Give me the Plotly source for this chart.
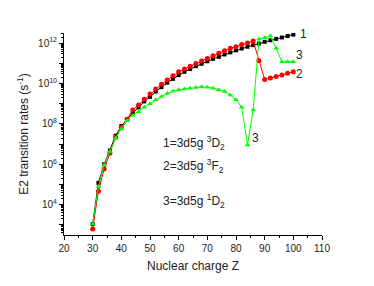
import math
import plotly.graph_objects as go

Z = [30, 32, 34, 36, 38, 40, 42, 44, 46, 48, 50, 52, 54, 56, 58, 60, 62, 64, 66, 68,
     70, 72, 74, 76, 78, 80, 82, 84, 86, 88, 90, 92, 94, 96, 98, 100]

rate_3D2 = [1.1e3, 1.2e5, 1.0e6, 4.8e6, 2.6e7, 7.9e7, 1.7e8, 3.5e8, 6.6e8, 1.3e9,
            2.2e9, 4.0e9, 6.6e9, 1.1e10, 1.7e10, 2.6e10, 3.8e10, 5.2e10, 7.2e10, 9.5e10,
            1.26e11, 1.66e11, 2.1e11, 2.75e11, 3.5e11, 4.4e11, 5.4e11, 6.6e11, 7.9e11, 9.5e11,
            1.15e12, 1.38e12, 1.62e12, 1.9e12, 2.24e12, 2.63e12]

rate_3F2 = [6.3e2, 4.6e4, 5.8e5, 3.5e6, 2.2e7, 6.9e7, 1.7e8, 4.9e8, 8.7e8, 1.66e9,
            3.0e9, 5.4e9, 9.1e9, 1.48e10, 2.45e10, 3.8e10, 5.2e10, 7.2e10, 9.8e10, 1.29e11,
            1.74e11, 2.34e11, 3.1e11, 4.2e11, 5.5e11, 6.6e11, 8.5e11, 1.02e12, 1.26e12, 1.35e11,
            1.6e10, 1.86e10, 2.2e10, 2.6e10, 3.2e10, 3.8e10]

rate_1D2 = [1.1e3, 7.9e4, 9.5e5, 4.3e6, 1.95e7, 5.6e7, 1.45e8, 2.7e8, 4.0e8, 6.6e8,
            1.0e9, 1.55e9, 2.24e9, 3.2e9, 4.1e9, 4.8e9, 5.4e9, 5.9e9, 6.3e9, 6.9e9,
            6.6e9, 5.9e9, 4.9e9, 4.0e9, 2.7e9, 1.55e9, 6.6e8, 9.1e6, 4.9e8, 1.58e12,
            1.86e12, 2.24e12, 5.5e11, 1.2e11, 1.2e11, 1.2e11]

x_ticks = [20, 30, 40, 50, 60, 70, 80, 90, 100, 110]
y_major = [1e3, 1e4, 1e5, 1e6, 1e7, 1e8, 1e9, 1e10, 1e11, 1e12]
y_labels = ["", "10<sup>4</sup>", "", "10<sup>6</sup>", "", "10<sup>8</sup>", "",
            "10<sup>10</sup>", "", "10<sup>12</sup>"]
y_minor = [m * 10 ** e for e in range(2, 13) for m in range(2, 10)]

legend_text = ["1=3d5g <sup>3</sup>D<sub>2</sub>",
               "2=3d5g <sup>3</sup>F<sub>2</sub>",
               "3=3d5g <sup>1</sup>D<sub>2</sub>"]

FONT = "Liberation Sans, Arial, sans-serif"
TXT = "#222222"

fig = go.Figure()
fig.add_trace(go.Scatter(x=Z, y=rate_3D2, mode="lines+markers",
                         line=dict(color="black", width=1),
                         marker=dict(symbol="square", size=4, color="black")))
fig.add_trace(go.Scatter(x=Z, y=rate_3F2, mode="lines+markers",
                         line=dict(color="#ff0000", width=1),
                         marker=dict(symbol="circle", size=5, color="#ff0000")))
fig.add_trace(go.Scatter(x=Z, y=rate_1D2, mode="lines+markers",
                         line=dict(color="#00ff00", width=1),
                         marker=dict(symbol="triangle-up", size=5, color="#00ff00")))

# page body has an 8px default margin, so the figure is sized/offset to compensate
fig.update_layout(
    width=366, height=278,
    margin=dict(l=56, r=52, t=25, b=51),
    paper_bgcolor="white", plot_bgcolor="white",
    showlegend=False,
    font=dict(family=FONT, color=TXT),
)

fig.update_xaxes(
    range=[20, 110], tickmode="array", tickvals=x_ticks, automargin=False,
    ticks="outside", ticklen=4, tickwidth=1, tickcolor="black",
    showline=True, linecolor="black", linewidth=1, showgrid=False, zeroline=False,
    tickfont=dict(size=10, family=FONT, color=TXT),
    minor=dict(tickmode="array", tickvals=[25, 35, 45, 55, 65, 75, 85, 95, 105],
               ticks="outside", ticklen=2, tickcolor="black", showgrid=False),
    title=dict(text="Nuclear charge Z", font=dict(size=12, family=FONT, color=TXT), standoff=8),
)
fig.update_yaxes(
    type="log", range=[2.5, 12.5], tickmode="array", tickvals=y_major, ticktext=y_labels,
    automargin=False,
    ticks="outside", ticklen=4, tickwidth=1, tickcolor="black",
    showline=True, linecolor="black", linewidth=1, showgrid=False, zeroline=False,
    tickfont=dict(size=10, family=FONT, color=TXT),
    minor=dict(tickmode="array", tickvals=y_minor,
               ticks="outside", ticklen=2, tickcolor="black", showgrid=False),
    title=dict(text="E2 transition rates (s<sup>-1</sup>)", font=dict(size=12, family=FONT, color=TXT), standoff=6),
)

# legend-like texts inside the plot (y given in data units, converted for the log axis)
for txt, yv in zip(legend_text, [1.1e7, 8.0e5, 1.6e4]):
    fig.add_annotation(x=54, y=math.log10(yv), yref="y", xref="x", text=txt, showarrow=False,
                       xanchor="left", yanchor="middle",
                       font=dict(size=12, family=FONT, color=TXT))

end_labels = [("1", 103.5, 2.8e12), ("3", 102.3, 2.6e11), ("2", 102.0, 3.0e10), ("3", 86.7, 1.9e7)]
for txt, xv, yv in end_labels:
    fig.add_annotation(x=xv, y=math.log10(yv), text=txt, showarrow=False,
                       xanchor="center", yanchor="middle",
                       font=dict(size=12, family=FONT, color=TXT))

fig.write_html("out.html")
